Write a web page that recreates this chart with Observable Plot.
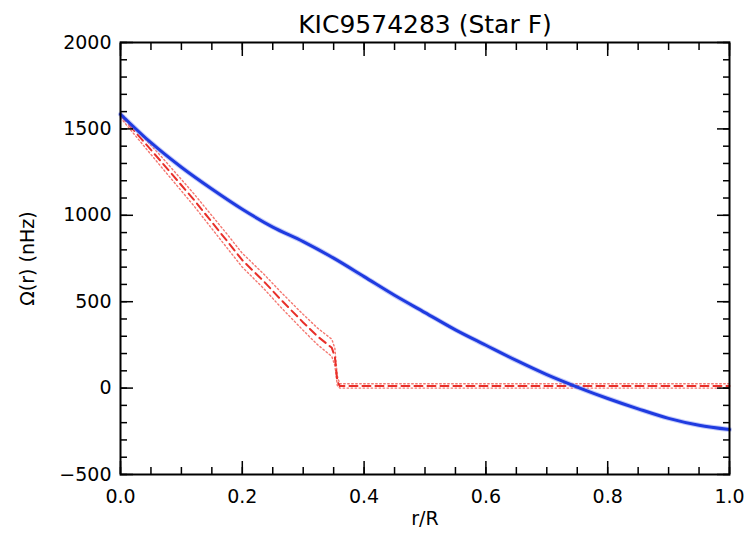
<!DOCTYPE html>
<html>
<head>
<meta charset="utf-8">
<script src="https://cdn.jsdelivr.net/npm/d3@7"></script>
<script src="https://cdn.jsdelivr.net/npm/@observablehq/plot@0.6"></script>
<style>
  html, body { margin: 0; padding: 0; background: #fff; }
</style>
</head>
<body>
<div id="chart"></div>
<script>
const title = "KIC9574283 (Star F)";
const xLabel = "r/R";
const yLabel = "Ω(r) (nHz)";

// Blue profile
const blueR = [0, 0.05, 0.1, 0.15, 0.2, 0.25, 0.3, 0.35, 0.4, 0.45, 0.5, 0.55, 0.6, 0.65, 0.7, 0.75, 0.8, 0.85, 0.9, 0.95, 1.0];
const blueOmega = [1585, 1420, 1278, 1152, 1035, 932, 848, 752, 645, 537, 437, 337, 248, 160, 78, 6, -60, -120, -175, -215, -240];

// Red profile (centre, upper & lower bounds)
const redR = [0, 0.066, 0.12, 0.175, 0.2, 0.235, 0.263, 0.3, 0.323, 0.347, 0.352, 0.356, 0.36, 1.0];
const redOmega = [1580, 1314, 1092, 851, 740, 619, 513, 380, 301, 233, 180, 40, 12, 12];
const redUpper = [1595, 1344, 1127, 891, 780, 661, 557, 426, 349, 283, 230, 70, 25, 25];
const redLower = [1565, 1284, 1057, 811, 700, 577, 469, 334, 253, 183, 130, 15, 0, 0];

// Ticks
const xMajor = [0, 0.2, 0.4, 0.6, 0.8, 1.0];
const xMinor = d3.range(0, 1.0001, 0.05).map(v => +v.toFixed(2));
const yMajor = [-500, 0, 500, 1000, 1500, 2000];
const yMinor = d3.range(-500, 2001, 100);

const blue = blueR.map((r, i) => ({r, v: blueOmega[i]}));
const red = redR.map((r, i) => ({r, v: redOmega[i], hi: redUpper[i], lo: redLower[i]}));

const font = "'DejaVu Sans', 'Liberation Sans', Arial, sans-serif";
const noText = () => "";

const plot = Plot.plot({
  width: 751,
  height: 540,
  marginLeft: 120,
  marginRight: 22,
  marginTop: 42,
  marginBottom: 66,
  style: {fontFamily: font, fontSize: "19px", color: "#000", background: "#fff"},
  x: {domain: [0, 1], label: null},
  y: {domain: [-500, 2000], label: null},
  marks: [
    // red uncertainty band (dotted) and centre (dashed)
    Plot.line(red, {x: "r", y: "hi", stroke: "#f04a40", strokeWidth: 1.4, strokeDasharray: "1.5,2.5", strokeOpacity: 0.75}),
    Plot.line(red, {x: "r", y: "lo", stroke: "#f04a40", strokeWidth: 1.4, strokeDasharray: "1.5,2.5", strokeOpacity: 0.75}),
    Plot.line(red, {x: "r", y: "v", stroke: "#e8302a", strokeWidth: 2, strokeDasharray: "8,5"}),
    // blue profile
    Plot.line(blue, {x: "r", y: "v", stroke: "#8a98f5", strokeWidth: 5, strokeOpacity: 0.5, curve: "catmull-rom"}),
    Plot.line(blue, {x: "r", y: "v", stroke: "#1f3be0", strokeWidth: 3, curve: "catmull-rom"}),
    // axes: labels
    Plot.axisX(xMajor, {anchor: "bottom", tickSize: 0, tickPadding: 15, tickFormat: d3.format(".1f"), label: xLabel, labelAnchor: "center", labelOffset: 50, labelArrow: "none", fontSize: 19}),
    Plot.axisY(yMajor, {anchor: "left", tickSize: 0, tickPadding: 9, tickFormat: d => d < 0 ? "\u2212" + Math.abs(d) : String(d), label: yLabel, labelAnchor: "center", labelOffset: 100, labelArrow: "none", fontSize: 19}),
    // inward ticks on all four sides
    Plot.axisX(xMinor, {anchor: "bottom", tickSize: -7, tickFormat: noText, label: null, strokeWidth: 1.5}),
    Plot.axisX(xMajor, {anchor: "bottom", tickSize: -13, tickFormat: noText, label: null, strokeWidth: 1.5}),
    Plot.axisX(xMinor, {anchor: "top", tickSize: -7, tickFormat: noText, label: null, strokeWidth: 1.5}),
    Plot.axisX(xMajor, {anchor: "top", tickSize: -13, tickFormat: noText, label: null, strokeWidth: 1.5}),
    Plot.axisY(yMinor, {anchor: "left", tickSize: -7, tickFormat: noText, label: null, strokeWidth: 1.5}),
    Plot.axisY(yMajor, {anchor: "left", tickSize: -13, tickFormat: noText, label: null, strokeWidth: 1.5}),
    Plot.axisY(yMinor, {anchor: "right", tickSize: -7, tickFormat: noText, label: null, strokeWidth: 1.5}),
    Plot.axisY(yMajor, {anchor: "right", tickSize: -13, tickFormat: noText, label: null, strokeWidth: 1.5}),
    Plot.frame({stroke: "#000", strokeWidth: 2}),
    // title
    Plot.text([title], {frameAnchor: "top", dy: -27, fontSize: 25, text: d => d, fill: "#000"})
  ]
});

document.getElementById("chart").appendChild(plot);
</script>
</body>
</html>
